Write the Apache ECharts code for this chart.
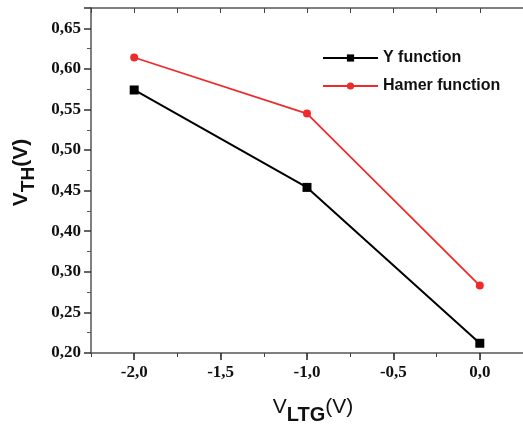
<!DOCTYPE html>
<html>
<head>
    <meta charset="UTF-8">
    <title>VTH vs VLTG</title>
    <script src="https://cdn.jsdelivr.net/npm/echarts@6/dist/echarts.min.js"></script>
    <style>
        body { margin: 0; background: #fff; }
    </style>
</head>
<body>
    <div id="main" style="width:523px; height:430px;"></div>
    <script>
        // data
        var vltg = [-2.0, -1.0, 0.0];
        var yFunction = [0.574, 0.454, 0.262];
        var hamerFunction = [0.614, 0.545, 0.333];
        // printed y tick labels, bottom to top
        var yTickLabels = ['0,20', '0,25', '0,30', '0,40', '0,45', '0,50', '0,55', '0,60', '0,65'];
        var xTickValues = [-2.0, -1.5, -1.0, -0.5, 0.0];

        var chart = echarts.init(document.getElementById('main'), null, {renderer: 'canvas'});

        var axisColor = '#555';
        var tickFont = {fontFamily: 'Liberation Serif', fontWeight: 'bold', fontSize: 17, color: '#111'};

        function pairs(ys) {
            return vltg.map(function (x, i) { return [x, ys[i]]; });
        }

        var option = {
            animation: false,
            grid: {left: 91, top: 8, right: -8, bottom: 75},
            legend: {
                orient: 'vertical',
                left: 317,
                top: 45,
                itemWidth: 55,
                itemHeight: 9,
                itemGap: 12,
                textStyle: {fontFamily: 'Liberation Sans', fontWeight: 'bold', fontSize: 16, color: '#111'},
                data: ['Y function', 'Hamer function']
            },
            xAxis: [
                {
                    type: 'value', min: -2.25, max: 0.25, position: 'bottom',
                    axisLine: {onZero: false, lineStyle: {color: axisColor, width: 1.5}},
                    axisTick: {length: 7, customValues: xTickValues, lineStyle: {color: '#222', width: 1.5}},
                    axisLabel: Object.assign({
                        margin: 11,
                        customValues: xTickValues,
                        formatter: function (v) { return v.toFixed(1).replace('.', ','); }
                    }, tickFont),
                    splitLine: {show: false},
                    name: '{v|V}{s|LTG}{v|(V)}',
                    nameLocation: 'middle',
                    nameGap: 44,
                    nameTextStyle: {
                        padding: [0, 0, 0, 12],
                        rich: {
                            v: {fontFamily: 'Liberation Sans', fontSize: 21, color: '#111', verticalAlign: 'top', padding: [0, 0, 6, 0]},
                            s: {fontFamily: 'Liberation Sans', fontWeight: 'bold', fontSize: 20, color: '#111', verticalAlign: 'bottom', padding: [8, 0, 0, 0]}
                        }
                    }
                },
                {
                    type: 'value', min: -2.25, max: 0.25, interval: 0.25, position: 'bottom',
                    axisLine: {show: false, onZero: false},
                    axisTick: {length: 4, lineStyle: {color: '#444', width: 1}},
                    axisLabel: {show: false},
                    splitLine: {show: false}
                },
                {
                    type: 'value', min: -2.25, max: 0.25, interval: 0.25, position: 'top',
                    axisLine: {onZero: false, lineStyle: {color: axisColor, width: 1.5}},
                    axisTick: {inside: true, length: 5, lineStyle: {color: '#444', width: 1}},
                    axisLabel: {show: false},
                    splitLine: {show: false}
                }
            ],
            yAxis: {
                type: 'value', min: 0.25, max: 0.675, interval: 0.05, position: 'left',
                axisLine: {show: true, onZero: false, lineStyle: {color: axisColor, width: 1.5}},
                axisTick: {show: true, length: 7, lineStyle: {color: '#333', width: 1.5}},
                minorTick: {show: true, splitNumber: 2, length: 4, lineStyle: {color: '#555', width: 1}},
                axisLabel: Object.assign({
                    margin: 10,
                    showMaxLabel: false,
                    formatter: function (v) {
                        var i = Math.round((v - 0.25) / 0.05);
                        return yTickLabels[i] || '';
                    }
                }, tickFont),
                splitLine: {show: false},
                name: '{v|V}{s|TH}{v|(V)}',
                nameLocation: 'middle',
                nameGap: 53,
                nameRotate: 90,
                nameTextStyle: {
                    padding: [0, 0, 0, 16],
                    rich: {
                        v: {fontFamily: 'Liberation Sans', fontWeight: 'bold', fontSize: 21, color: '#111', verticalAlign: 'top', padding: [0, 0, 6, 0]},
                        s: {fontFamily: 'Liberation Sans', fontWeight: 'bold', fontSize: 19, color: '#111', verticalAlign: 'bottom', padding: [8, 0, 0, 0]}
                    }
                }
            },
            series: [
                {
                    name: 'Y function',
                    type: 'line',
                    data: pairs(yFunction),
                    symbol: 'rect',
                    symbolSize: 9,
                    itemStyle: {color: '#000'},
                    lineStyle: {color: '#000', width: 2}
                },
                {
                    name: 'Hamer function',
                    type: 'line',
                    data: pairs(hamerFunction),
                    symbol: 'circle',
                    symbolSize: 8,
                    itemStyle: {color: '#ee2a2a'},
                    lineStyle: {color: '#ee2a2a', width: 1.8}
                }
            ]
        };

        chart.setOption(option);
    </script>
</body>
</html>
